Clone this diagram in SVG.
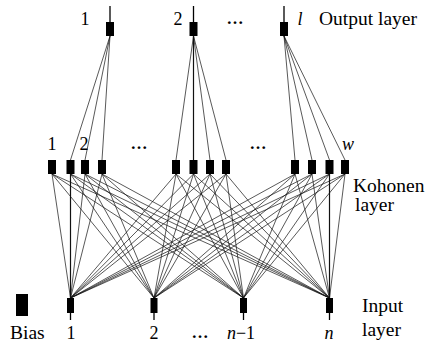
<svg xmlns="http://www.w3.org/2000/svg" width="428" height="348" viewBox="0 0 428 348">
  <style>
    .lbl { font-family: "Liberation Serif", "Times New Roman", serif; font-size: 19.5px; fill: #000; }
    .num { font-family: "Liberation Serif", "Times New Roman", serif; font-size: 18px; fill: #000; text-anchor: middle; }
    .it { font-style: italic; }
    .dots { font-family: "Liberation Serif", "Times New Roman", serif; font-size: 17px; font-weight: bold; fill: #000; text-anchor: middle; }
    .node { fill: #000; }
    .wire { stroke: #111; stroke-width: 0.7; fill: none; }
    .stub { stroke: #000; stroke-width: 1.3; }
  </style>
  <rect width="428" height="348" fill="#fff"/>

  <!-- connectors -->
  <g id="connectors" class="wire">
    <!-- output layer to Kohonen layer -->
    <line x1="110" y1="36" x2="70.5" y2="160"/>
    <line x1="110" y1="36" x2="85" y2="160"/>
    <line x1="110" y1="36" x2="102" y2="160"/>
    <line x1="193.5" y1="36" x2="176" y2="160"/>
    <line x1="193.5" y1="36" x2="193.5" y2="160" stroke-width="1.2"/>
    <line x1="193.5" y1="36" x2="210" y2="160"/>
    <line x1="193.5" y1="36" x2="226" y2="160"/>
    <line x1="284" y1="36" x2="295" y2="160"/>
    <line x1="284" y1="36" x2="312" y2="160"/>
    <line x1="284" y1="36" x2="329.5" y2="160"/>
    <line x1="284" y1="36" x2="345" y2="160"/>
    <!-- Kohonen layer to input layer -->
    <line x1="52" y1="174" x2="70.5" y2="298"/>
    <line x1="52" y1="174" x2="154" y2="298"/>
    <line x1="52" y1="174" x2="243.5" y2="298"/>
    <line x1="52" y1="174" x2="329.5" y2="298"/>
    <line x1="70.5" y1="174" x2="70.5" y2="298" stroke-width="1.2"/>
    <line x1="70.5" y1="174" x2="154" y2="298"/>
    <line x1="70.5" y1="174" x2="243.5" y2="298"/>
    <line x1="70.5" y1="174" x2="329.5" y2="298"/>
    <line x1="85" y1="174" x2="70.5" y2="298"/>
    <line x1="85" y1="174" x2="154" y2="298"/>
    <line x1="85" y1="174" x2="243.5" y2="298"/>
    <line x1="85" y1="174" x2="329.5" y2="298"/>
    <line x1="102" y1="174" x2="70.5" y2="298"/>
    <line x1="102" y1="174" x2="154" y2="298"/>
    <line x1="102" y1="174" x2="243.5" y2="298"/>
    <line x1="102" y1="174" x2="329.5" y2="298"/>
    <line x1="176" y1="174" x2="70.5" y2="298"/>
    <line x1="176" y1="174" x2="154" y2="298"/>
    <line x1="176" y1="174" x2="243.5" y2="298"/>
    <line x1="176" y1="174" x2="329.5" y2="298"/>
    <line x1="193.5" y1="174" x2="70.5" y2="298"/>
    <line x1="193.5" y1="174" x2="154" y2="298"/>
    <line x1="193.5" y1="174" x2="243.5" y2="298"/>
    <line x1="193.5" y1="174" x2="329.5" y2="298"/>
    <line x1="210" y1="174" x2="70.5" y2="298"/>
    <line x1="210" y1="174" x2="154" y2="298"/>
    <line x1="210" y1="174" x2="243.5" y2="298"/>
    <line x1="210" y1="174" x2="329.5" y2="298"/>
    <line x1="226" y1="174" x2="70.5" y2="298"/>
    <line x1="226" y1="174" x2="154" y2="298"/>
    <line x1="226" y1="174" x2="243.5" y2="298"/>
    <line x1="226" y1="174" x2="329.5" y2="298"/>
    <line x1="295" y1="174" x2="70.5" y2="298"/>
    <line x1="295" y1="174" x2="154" y2="298"/>
    <line x1="295" y1="174" x2="243.5" y2="298"/>
    <line x1="295" y1="174" x2="329.5" y2="298"/>
    <line x1="312" y1="174" x2="70.5" y2="298"/>
    <line x1="312" y1="174" x2="154" y2="298"/>
    <line x1="312" y1="174" x2="243.5" y2="298"/>
    <line x1="312" y1="174" x2="329.5" y2="298"/>
    <line x1="329.5" y1="174" x2="70.5" y2="298"/>
    <line x1="329.5" y1="174" x2="154" y2="298"/>
    <line x1="329.5" y1="174" x2="243.5" y2="298"/>
    <line x1="329.5" y1="174" x2="329.5" y2="298" stroke-width="1.2"/>
    <line x1="345" y1="174" x2="70.5" y2="298"/>
    <line x1="345" y1="174" x2="154" y2="298"/>
    <line x1="345" y1="174" x2="243.5" y2="298"/>
    <line x1="345" y1="174" x2="329.5" y2="298"/>
  </g>

  <!-- output layer -->
  <g id="out1"><line class="stub" x1="110" y1="6" x2="110" y2="22"/><rect class="node" x="106" y="22" width="8" height="14"/><text class="num" x="85" y="25">1</text></g>
  <g id="out2"><line class="stub" x1="193.5" y1="6" x2="193.5" y2="22"/><rect class="node" x="189.5" y="22" width="8" height="14"/><text class="num" x="178" y="25">2</text></g>
  <g id="outL"><line class="stub" x1="284" y1="6" x2="284" y2="22"/><rect class="node" x="280" y="22" width="8" height="14"/><text class="num it" x="300" y="25">l</text></g>
  <text class="dots" x="235" y="24">…</text>
  <text class="lbl" x="319" y="25">Output layer</text>

  <!-- Kohonen layer -->
  <g id="k1"><rect class="node" x="48" y="160" width="8" height="14"/></g>
  <g id="k2"><rect class="node" x="66.5" y="160" width="8" height="14"/></g>
  <g id="k3"><rect class="node" x="81" y="160" width="8" height="14"/></g>
  <g id="k4"><rect class="node" x="98" y="160" width="8" height="14"/></g>
  <g id="k5"><rect class="node" x="172" y="160" width="8" height="14"/></g>
  <g id="k6"><rect class="node" x="189.5" y="160" width="8" height="14"/></g>
  <g id="k7"><rect class="node" x="206" y="160" width="8" height="14"/></g>
  <g id="k8"><rect class="node" x="222" y="160" width="8" height="14"/></g>
  <g id="k9"><rect class="node" x="291" y="160" width="8" height="14"/></g>
  <g id="k10"><rect class="node" x="308" y="160" width="8" height="14"/></g>
  <g id="k11"><rect class="node" x="325.5" y="160" width="8" height="14"/></g>
  <g id="k12"><rect class="node" x="341" y="160" width="8" height="14"/></g>
  <text class="num" x="52" y="150">1</text>
  <text class="num" x="84" y="150">2</text>
  <text class="dots" x="139" y="149">…</text>
  <text class="dots" x="258" y="149">…</text>
  <text class="num it" x="348" y="150">w</text>
  <text class="lbl" x="353" y="192">Kohonen</text>
  <text class="lbl" x="355" y="211">layer</text>

  <!-- input layer -->
  <g id="bias"><rect class="node" x="16" y="294" width="12" height="22"/><text class="lbl" x="10" y="339">Bias</text></g>
  <g id="in1"><rect class="node" x="67" y="298" width="7" height="15"/><line class="stub" x1="70.5" y1="313" x2="70.5" y2="320"/><text class="num" x="71" y="339">1</text></g>
  <g id="in2"><rect class="node" x="150.5" y="298" width="7" height="15"/><line class="stub" x1="154" y1="313" x2="154" y2="320"/><text class="num" x="154" y="339">2</text></g>
  <g id="inN1"><rect class="node" x="240" y="298" width="7" height="15"/><line class="stub" x1="243.5" y1="313" x2="243.5" y2="320"/><text class="num" x="241" y="339"><tspan class="it">n</tspan>−1</text></g>
  <g id="inN"><rect class="node" x="326" y="298" width="7" height="15"/><line class="stub" x1="329.5" y1="313" x2="329.5" y2="320"/><text class="num it" x="329" y="339">n</text></g>
  <text class="dots" x="200" y="338">…</text>
  <text class="lbl" x="362" y="312">Input</text>
  <text class="lbl" x="362" y="336">layer</text>
</svg>
